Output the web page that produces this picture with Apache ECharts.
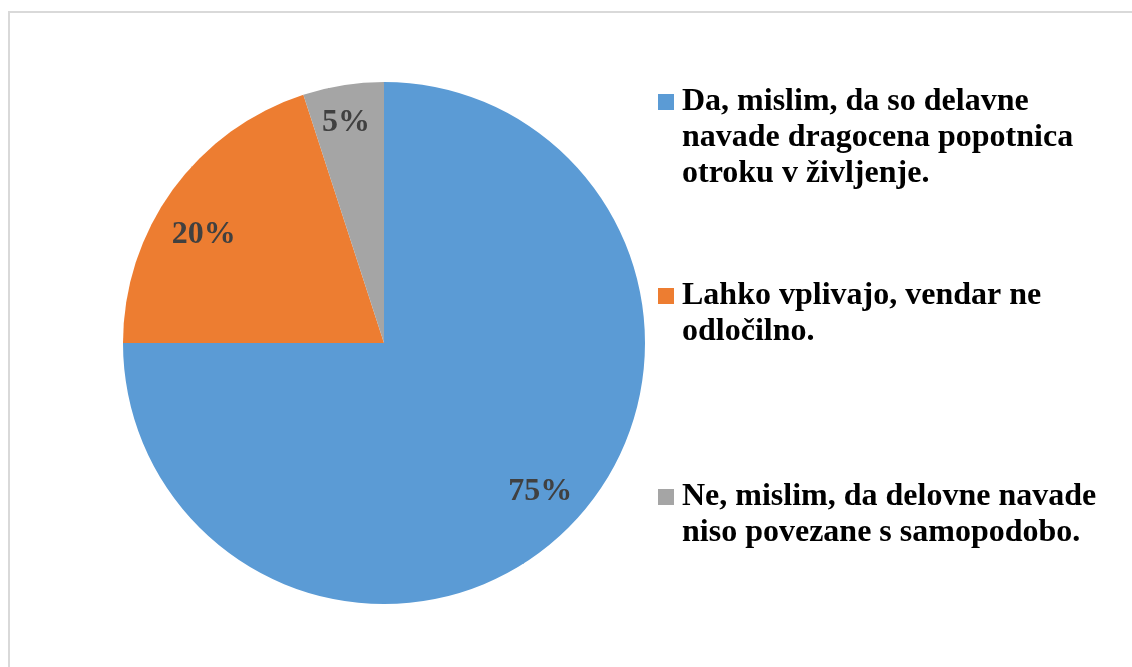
<!DOCTYPE html>
<html>
	<head>
		<meta charset="UTF-8">
		<title>Delovne navade</title>
		<script src="https://cdn.jsdelivr.net/npm/echarts@6/dist/echarts.min.js"></script>
		<style>
			html, body { margin: 0; padding: 0; background: #fff; }
			#pie { width: 1132px; height: 667px; }
		</style>
	</head>
	<body>
		<div id="pie"></div>
		<script>
			// answers and shares (%)
			var answers = [
				"Da, mislim, da so delavne\nnavade dragocena popotnica\notroku v življenje.",
				"Lahko vplivajo, vendar ne\nodločilno.",
				"Ne, mislim, da delovne navade\nniso povezane s samopodobo."
			];
			var shares = [75, 20, 5];
			var colors = ['#5B9BD5', '#ED7D31', '#A5A5A5'];

			var cx = 384, cy = 343, R = 261;
			var font = "'Liberation Serif', 'Times New Roman', serif";
			var lineH = 36;

			// one legend per answer; blank lines in front keep the square on the first line
			var legendTops = [12, 242, 443];
			var legends = answers.map(function (name, i) {
				var lines = name.split('\n').length;
				var pad = new Array(lines).join('\n');
				return {
					data: [name],
					left: 658,
					top: legendTops[i],
					padding: 0,
					icon: 'rect',
					itemWidth: 16,
					itemHeight: 16,
					selectedMode: false,
					formatter: function (n) { return pad + n; },
					textStyle: {
						fontFamily: font,
						fontWeight: 'bold',
						fontSize: 32,
						color: '#000',
						lineHeight: lineH,
						padding: [0, 0, 0, 3]
					}
				};
			});

			// mid angle of each slice, degrees, counted clockwise from 12 o'clock
			var total = shares.reduce(function (a, b) { return a + b; }, 0);
			var acc = 0;
			var midAngles = shares.map(function (v) {
				var m = (acc + v / 2) / total * 360;
				acc += v;
				return m;
			});
			// excel's best-fit placement is not quite on the mid angle
			var labelNudge = [[3, -4], [-5, 19], [-4, -6]];

			var chart = echarts.init(document.getElementById('pie'), null, { renderer: 'canvas' });
			chart.setOption({
				animation: false,
				color: colors,
				graphic: [{
					type: 'rect',
					shape: { x: 9, y: 12, width: 1200, height: 700 },
					style: { fill: 'none', stroke: '#d9d9d9', lineWidth: 2 },
					silent: true
				}],
				legend: legends,
				series: [{
					type: 'pie',
					center: [cx, cy],
					radius: [0, R],
					startAngle: 90,
					clockwise: true,
					emphasis: { disabled: true },
					label: {
						position: 'inside',
						formatter: '{c}%',
						fontFamily: font,
						fontWeight: 'bold',
						fontSize: 32,
						color: '#404040'
					},
					labelLayout: function (p) {
						var a = midAngles[p.dataIndex] * Math.PI / 180;
						var d = R * 0.83;
						var n = labelNudge[p.dataIndex];
						return {
							x: cx + d * Math.sin(a) + n[0],
							y: cy - d * Math.cos(a) + n[1],
							align: 'center',
							verticalAlign: 'middle'
						};
					},
					data: answers.map(function (n, i) {
						return { name: n, value: shares[i] };
					})
				}]
			});
		</script>
	</body>
</html>
